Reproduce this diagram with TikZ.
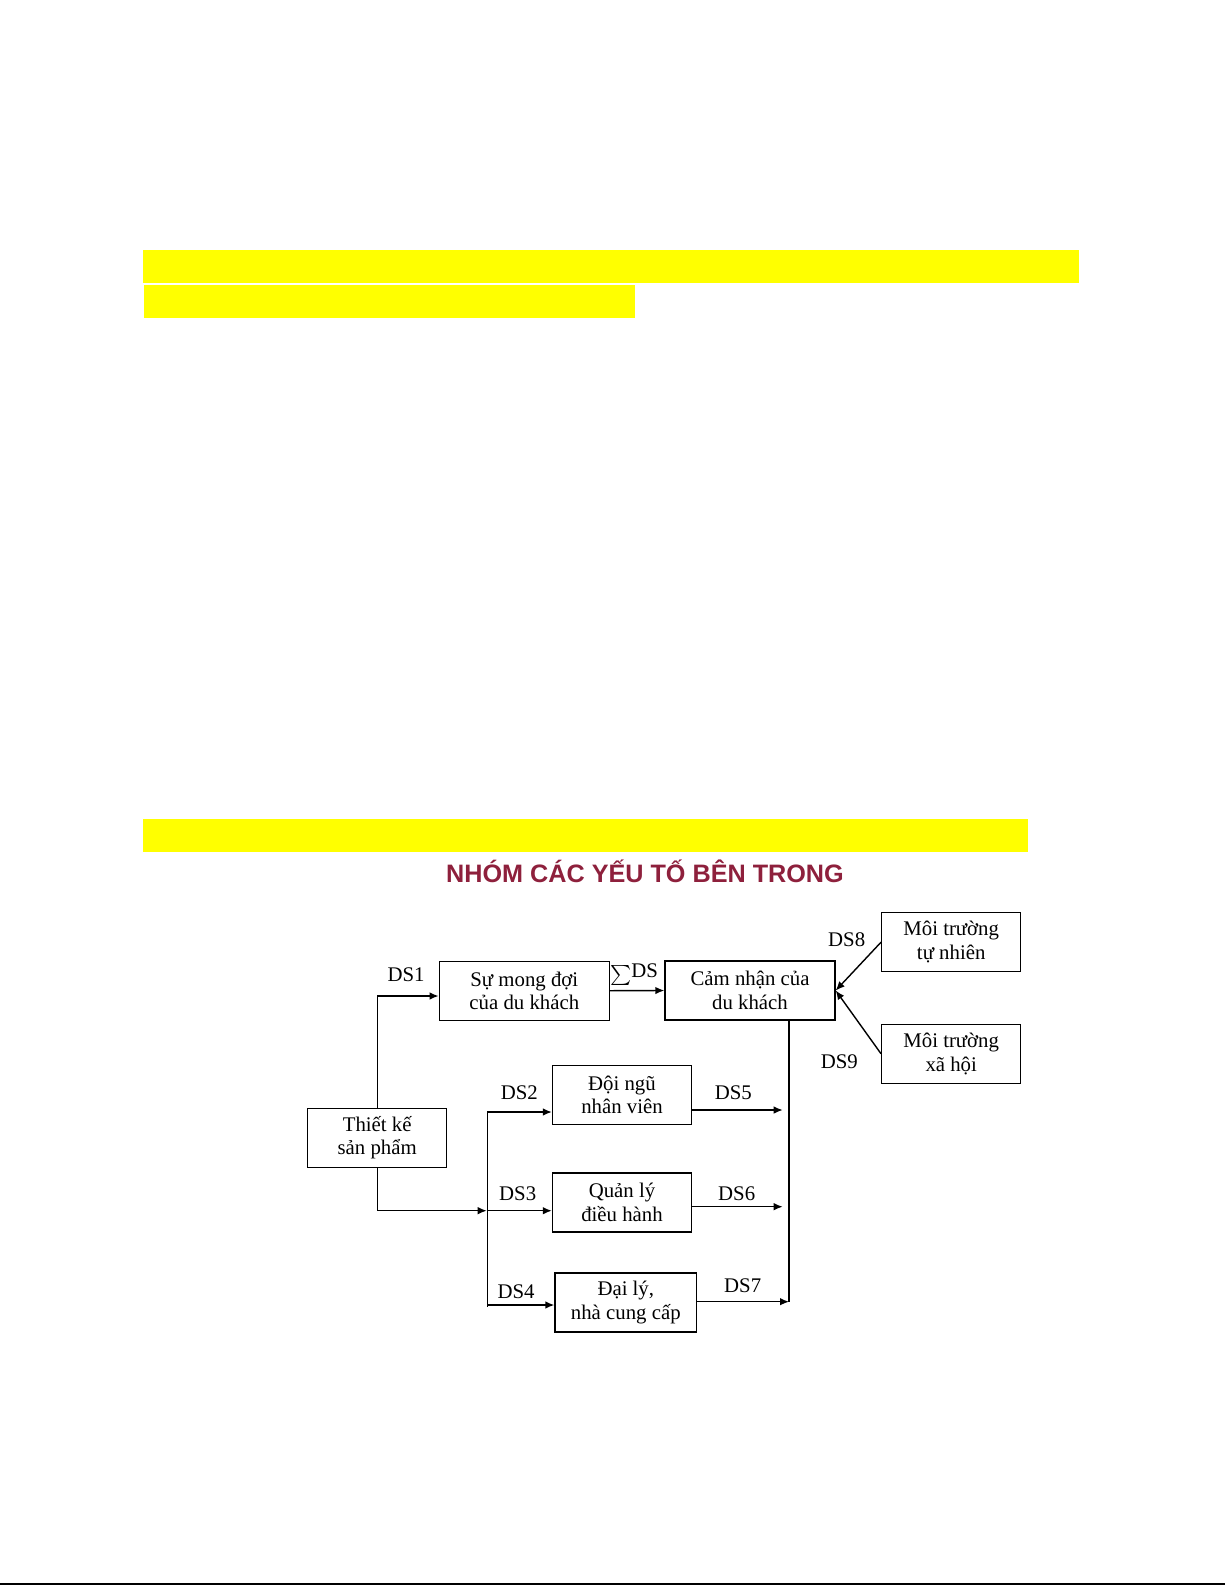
\documentclass[tikz,border=0pt]{standalone}
\usepackage{fontspec}
\setmainfont{Liberation Serif}
\newfontfamily\headfont{Liberation Sans}
\usetikzlibrary{arrows.meta}
\definecolor{hlyellow}{RGB}{255,255,0}
\definecolor{headred}{RGB}{142,32,60}

\begin{document}
\begin{tikzpicture}[x=0.5pt, y=-0.5pt,
  every node/.style={font=\fontsize{10.4}{11.8}\selectfont, inner sep=0pt},
  box/.style={rectangle, draw, line width=0.7pt, align=center, minimum width=69.5pt, minimum height=29.5pt},
  wide/.style={box, minimum width=85pt},
  lbl/.style={anchor=center},
  arr/.style={-{Latex[length=4.5pt,width=3.8pt]}, line width=0.7pt},
  bus/.style={line width=0.7pt},
  hl/.style={fill=hlyellow}]
\useasboundingbox (0,0) rectangle (1225,1585);

% highlighted lines of the page
\fill[hl] (143,250) rectangle (1079,282.7);
\fill[hl] (144,285) rectangle (635,317.7);
\fill[hl] (143,819) rectangle (1027.7,851.7);
\node[font=\headfont\bfseries\fontsize{12.6}{14}\selectfont, text=headred] (title) at (645,871.5) {NHÓM CÁC YẾU TỐ BÊN TRONG};

\node[wide] (mong) at (524.3,990.7) {Sự mong đợi\\của du khách};
\node[wide] (cam) at (750,990.5) {Cảm nhận của\\du khách};
\node[box] (tunhien) at (951.2,942.2) {Môi trường\\tự nhiên};
\node[box] (xahoi) at (951.2,1053.7) {Môi trường\\xã hội};
\node[box] (thietke) at (377.2,1137.7) {Thiết kế\\sản phẩm};
\node[box] (doingu) at (622,1095) {Đội ngũ\\nhân viên};
\node[box] (quanly) at (622,1202.3) {Quản lý\\điều hành};
\node[box, minimum width=70.8pt] (daily) at (625.8,1302.5) {Đại lý,\\nhà cung cấp};

\coordinate (hub) at (486.7,1210.7);
\coordinate (splittop) at (487.3,1112);
\coordinate (splitbot) at (487.3,1307);
\coordinate (in4) at (487.3,1305);
\coordinate (in5) at (782.7,1110);
\coordinate (in6) at (782.7,1206.7);
\coordinate (sumbot) at (789,1301.7);

\draw[arr] (thietke.north) |- (mong.west |- 0,996);
\draw[arr] (mong.east) -- (cam.west);
\draw[arr] (tunhien.west) -- (cam.east);
\draw[arr] (xahoi.west) -- (cam.east);
\draw[arr] (thietke.south) |- (hub);
\draw[bus] (splittop) -- (splitbot);
\draw[arr] (splittop) -- (doingu.west |- splittop);
\draw[arr] (hub) -- (quanly.west |- hub);
\draw[arr] (in4) -- (daily.west |- in4);
\draw[bus] (cam.south -| sumbot) -- (sumbot);
\draw[arr] (doingu.east |- in5) -- (in5);
\draw[arr] (quanly.east |- in6) -- (in6);
\draw[arr] (daily.east |- sumbot) -- (sumbot);

\node[lbl] (l1) at (406,975) {DS1};
\node[lbl] (lsum) at (634,975) {$\textstyle\sum$\raisebox{0.3ex}{DS}};
\node[lbl] (l2) at (519.3,1092.3) {DS2};
\node[lbl] (l3) at (517.7,1194) {DS3};
\node[lbl] (l4) at (516,1291.7) {DS4};
\node[lbl] (l5) at (733.3,1092.3) {DS5};
\node[lbl] (l6) at (736.7,1194) {DS6};
\node[lbl] (l7) at (742.7,1286) {DS7};
\node[lbl] (l8) at (846.7,940) {DS8};
\node[lbl] (l9) at (839.3,1061.7) {DS9};

\draw[line width=0.7pt] (0,1584) -- (1225,1584);
\end{tikzpicture}
\end{document}
